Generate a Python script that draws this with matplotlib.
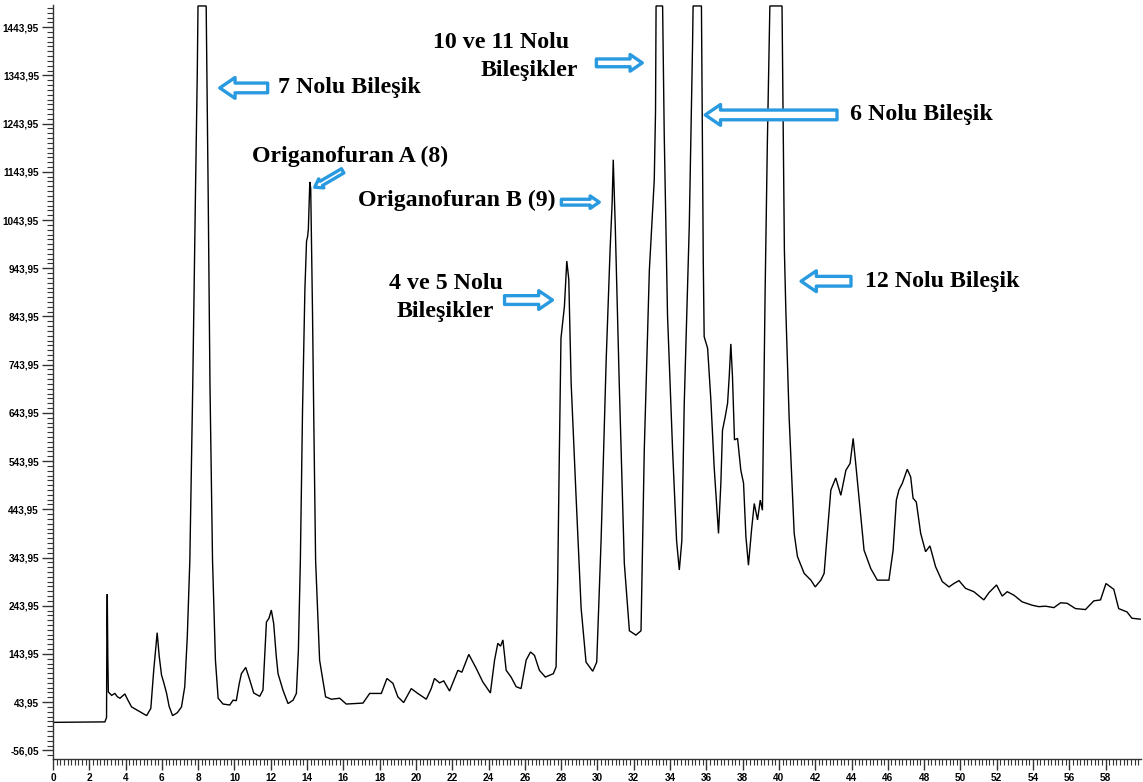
import matplotlib
matplotlib.use("Agg")
import matplotlib.pyplot as plt
from matplotlib.patches import FancyArrowPatch
from matplotlib.patches import ArrowStyle
from matplotlib.ticker import FixedLocator, MultipleLocator

# Chromatogram trace: retention time (min) and detector response
time_min = [
    0.0, 2.86, 2.95, 2.97, 2.99, 3.02, 3.05, 3.23, 3.41, 3.55, 3.69, 3.96, 4.1, 4.33,
    4.79, 5.16, 5.39, 5.55, 5.74, 5.85, 5.98, 6.1, 6.26, 6.4, 6.59, 6.85, 7.08, 7.26,
    7.4, 7.54, 7.7, 7.85, 7.95, 7.99, 8.44, 8.47, 8.55, 8.65, 8.79, 8.95, 9.1, 9.37,
    9.74, 9.92, 10.1, 10.25, 10.38, 10.62, 10.84, 11.06, 11.39, 11.57, 11.68, 11.76,
    11.9, 12.03, 12.16, 12.3, 12.4, 12.67, 12.95, 13.23, 13.41, 13.52, 13.63, 13.75,
    13.88, 13.97, 14.03, 14.07, 14.1, 14.15, 14.2, 14.3, 14.38, 14.47, 14.69, 15.02,
    15.34, 15.8, 16.16, 17.08, 17.45, 17.72, 18.09, 18.4, 18.73, 19.0, 19.32, 19.74,
    20.1, 20.57, 20.84, 21.02, 21.3, 21.53, 21.85, 22.31, 22.53, 22.91, 23.32, 23.68,
    24.1, 24.33, 24.51, 24.66, 24.79, 24.97, 25.24, 25.52, 25.79, 26.07, 26.31, 26.53,
    26.8, 27.13, 27.57, 27.72, 27.81, 27.9, 27.99, 28.18, 28.31, 28.42, 28.55, 28.82,
    29.1, 29.37, 29.74, 29.96, 30.2, 30.48, 30.7, 30.81, 30.87, 30.98, 31.2, 31.48,
    31.76, 32.12, 32.4, 32.58, 32.86, 33.13, 33.2, 33.23, 33.59, 33.68, 33.86, 34.14,
    34.36, 34.51, 34.65, 34.78, 35.06, 35.24, 35.27, 35.73, 35.78, 35.83, 35.88, 36.07,
    36.25, 36.43, 36.67, 36.8, 36.89, 37.04, 37.17, 37.26, 37.35, 37.44, 37.55, 37.72,
    37.9, 38.05, 38.18, 38.32, 38.49, 38.64, 38.82, 38.97, 39.09, 39.13, 39.24, 39.36,
    39.5, 40.17, 40.24, 40.3, 40.38, 40.56, 40.84, 41.02, 41.39, 41.76, 42.0, 42.31,
    42.49, 42.62, 42.86, 43.13, 43.41, 43.69, 43.92, 44.09, 44.23, 44.51, 44.69, 45.06,
    45.42, 46.06, 46.29, 46.47, 46.61, 46.8, 47.07, 47.26, 47.39, 47.57, 47.81, 48.08,
    48.32, 48.63, 49.0, 49.37, 49.64, 49.92, 50.28, 50.74, 51.29, 51.57, 51.99, 52.3,
    52.58, 52.94, 53.4, 53.95, 54.32, 54.69, 55.15, 55.52, 55.88, 56.34, 56.89, 57.35,
    57.72, 58.02, 58.45, 58.72, 59.18, 59.45, 59.91,
]
response = [
    2, 3, 12, 208, 268, 140, 65, 58, 62, 55, 52, 61, 50, 34,
    24, 16, 31, 110, 188, 140, 100, 85, 62, 35, 16, 22, 34, 76,
    180, 338, 700, 1100, 1350, 1488, 1488, 1380, 1100, 700, 338, 131, 52, 40,
    38, 48, 47, 80, 103, 116, 90, 63, 56, 69, 150, 210,
    218, 235, 207, 140, 103, 69, 41, 48, 62, 150, 338, 650,
    900, 1000, 1010, 1025, 1060, 1123, 1110, 850, 600, 338, 131, 55,
    50, 52, 40, 42, 62, 62, 62, 93, 83, 55, 43, 72,
    62, 50, 72, 93, 84, 88, 67, 110, 106, 143, 114, 86,
    63, 131, 166, 160, 173, 110, 96, 76, 72, 131, 148, 141,
    110, 96, 103, 117, 300, 560, 799, 865, 959, 921, 706, 472,
    239, 127, 108, 127, 379, 753, 986, 1080, 1169, 1033, 706, 332,
    192, 183, 192, 567, 940, 1127, 1270, 1488, 1488, 1220, 847, 567,
    379, 318, 379, 660, 1033, 1407, 1488, 1488, 1220, 960, 802, 778,
    670, 532, 394, 498, 608, 636, 664, 719, 787, 719, 588, 591,
    525, 498, 387, 328, 401, 456, 422, 463, 442, 567, 900, 1200,
    1488, 1488, 1220, 982, 857, 636, 394, 346, 311, 297, 283, 297,
    311, 373, 484, 509, 473, 525, 539, 591, 539, 428, 359, 321,
    297, 297, 359, 463, 484, 498, 527, 511, 467, 459, 394, 356,
    368, 325, 294, 283, 290, 296, 280, 273, 256, 271, 287, 264,
    273, 266, 252, 245, 242, 243, 240, 250, 249, 238, 236, 254,
    256, 290, 278, 238, 231, 218, 216,
]

y_tick_values = [-56.05, 43.95, 143.95, 243.95, 343.95, 443.95, 543.95, 643.95,
                 743.95, 843.95, 943.95, 1043.95, 1143.95, 1243.95, 1343.95, 1443.95]
y_tick_labels = ["-56,05", "43,95", "143,95", "243,95", "343,95", "443,95", "543,95",
                 "643,95", "743,95", "843,95", "943,95", "1043,95", "1143,95",
                 "1243,95", "1343,95", "1443,95"]
x_tick_values = list(range(0, 60, 2))
x_tick_labels = [str(v) for v in x_tick_values]

# Peak annotations: text lines (x, y, text)
labels = [
    (12.38, 1318, "7 Nolu Bileşik"),
    (10.95, 1175, "Origanofuran A (8)"),
    (20.95, 1413, "10 ve 11 Nolu"),
    (23.55, 1355, "Bileşikler"),
    (43.92, 1262, "6 Nolu Bileşik"),
    (16.79, 1085, "Origanofuran B (9)"),
    (18.50, 913, "4 ve 5 Nolu"),
    (18.93, 855, "Bileşikler"),
    (44.74, 917, "12 Nolu Bileşik"),
]
# Arrows: (tail, head, size)
arrows = [
    ((11.83, 1318), (9.19, 1318), 10),
    ((15.96, 1146), (14.42, 1112), 5),
    ((29.94, 1370), (32.47, 1370), 8),
    ((43.2, 1262), (35.94, 1262), 10),
    ((28.01, 1081), (30.10, 1081), 6),
    ((24.88, 878), (27.52, 878), 9),
    ((43.97, 917), (41.22, 917), 10),
]

W, H = 1143, 782
fig = plt.figure(figsize=(W / 100, H / 100), dpi=100)
fig.patch.set_facecolor("white")
ax = fig.add_axes([53 / W, 1 - 759 / H, (1141 - 53) / W, (759 - 5) / H])

ax.plot(time_min, response, color="black", lw=1.0, solid_joinstyle="miter")

ax.set_xlim(0, 59.95)
ax.set_ylim(-74, 1490)

for side in ("top", "right"):
    ax.spines[side].set_visible(False)
for side in ("left", "bottom"):
    ax.spines[side].set_color("#333333")
    ax.spines[side].set_linewidth(1.0)

tick_font = {"family": "Liberation Sans", "weight": "bold", "size": 7.2}
ax.yaxis.set_major_locator(FixedLocator(y_tick_values))
ax.set_yticklabels(y_tick_labels, **tick_font)
ax.yaxis.set_minor_locator(FixedLocator([-56.05 + 10 * k for k in range(-1, 155)]))
ax.xaxis.set_major_locator(FixedLocator(x_tick_values))
ax.set_xticklabels(x_tick_labels, **tick_font)
ax.xaxis.set_minor_locator(MultipleLocator(0.2))
ax.tick_params(axis="both", which="major", length=8, width=1, color="#333333", pad=2)
ax.tick_params(axis="both", which="minor", length=4, width=0.8, color="#333333")

for x, y, txt in labels:
    ax.text(x, y, txt, ha="left", va="center", fontsize=17.2,
            family="Liberation Serif", weight="bold", color="black")

blue = "#2A9AE0"
for tail, head, size in arrows:
    style = ArrowStyle.Simple(head_length=1.1, head_width=1.5, tail_width=0.7)
    arr = FancyArrowPatch(tail, head, arrowstyle=style, mutation_scale=size,
                          facecolor="white", edgecolor=blue, lw=2.4,
                          shrinkA=0, shrinkB=0, zorder=5)
    ax.add_patch(arr)

fig.savefig("out.png", dpi=100)
